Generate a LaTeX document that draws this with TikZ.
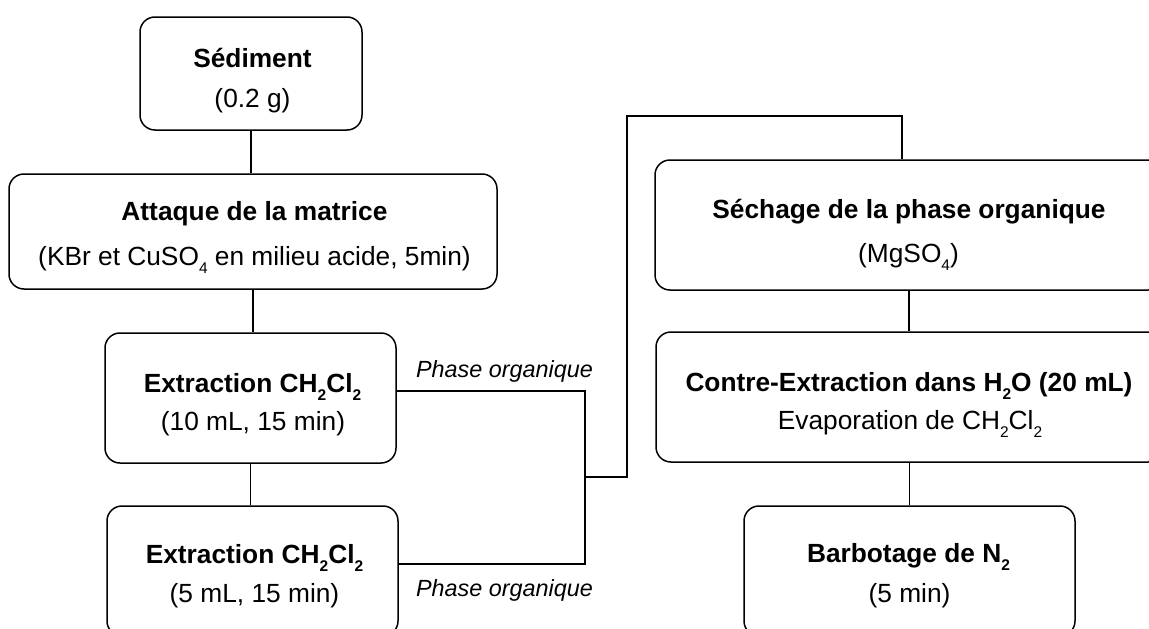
\documentclass[tikz,border=0pt]{standalone}
\usepackage{fontspec}
\setmainfont{Liberation Sans}
\newcommand{\lowsub}[1]{\raisebox{-0.32em}{\fontsize{15.5}{16}\selectfont #1}}
\begin{document}
\begin{tikzpicture}[x=1pt,y=-1pt,
  box/.style={draw, rounded corners=15pt, line width=1.5pt, inner sep=0pt},
  conn/.style={line width=1.1pt},
  lbl/.style={anchor=base, inner sep=0pt, font=\fontsize{26.3}{30}\selectfont},
  plbl/.style={anchor=base, inner sep=0pt, font=\fontsize{23.4}{28}\selectfont\itshape}]
\useasboundingbox (0,0) rectangle (1149,629);
\fill[white] (0,0) rectangle (1149,629);
\clip (0,0) rectangle (1149,629);

% boxes
\node[box, minimum width=222pt, minimum height=113pt] (sed) at (251,73.5) {};
\node[box, minimum width=488pt, minimum height=115pt] (att) at (253,231.5) {};
\node[box, minimum width=291pt, minimum height=130pt] (ex1) at (250.5,398) {};
\node[box, minimum width=291pt, minimum height=130pt] (ex2) at (252.5,571) {};
\node[box, minimum width=508pt, minimum height=130pt] (sec) at (909,225) {};
\node[box, minimum width=507pt, minimum height=130pt] (con) at (909.5,397) {};
\node[box, minimum width=331pt, minimum height=130pt] (bar) at (909.5,571) {};

% texts
\node[lbl] (sedA) at (252.5,67) {\bfseries Sédiment};
\node[lbl] (sedB) at (252.5,107) {(0.2 g)};
\node[lbl] (attA) at (254.5,220) {\bfseries Attaque de la matrice};
\node[lbl] (attB) at (254.5,265) {(KBr et CuSO\lowsub{4} en milieu acide, 5min)};
\node[lbl] (ex1A) at (252.5,392) {\bfseries Extraction CH\lowsub{2}Cl\lowsub{2}};
\node[lbl] (ex1B) at (253,430) {(10 mL, 15 min)};
\node[lbl] (ex2A) at (254.5,563) {\bfseries Extraction CH\lowsub{2}Cl\lowsub{2}};
\node[lbl] (ex2B) at (254.5,602) {(5 mL, 15 min)};
\node[lbl] (secA) at (909,218) {\bfseries Séchage de la phase organique};
\node[lbl] (secB) at (908.5,262) {(MgSO\lowsub{4})};
\node[lbl] (conA) at (909,391) {\bfseries Contre-Extraction dans H\lowsub{2}O (20 mL)};
\node[lbl] (conB) at (910,429) {Evaporation de CH\lowsub{2}Cl\lowsub{2}};
\node[lbl] (barA) at (908.5,562) {\bfseries Barbotage de N\lowsub{2}};
\node[lbl] (barB) at (909.5,602) {(5 min)};
\node[plbl] (ph1) at (504.5,377) {Phase organique};
\node[plbl] (ph2) at (504.5,596) {Phase organique};

% junctions
\coordinate (j1) at (585,391);
\coordinate (j2) at (585,564);
\coordinate (j3) at (585,477);
\coordinate (j5) at (627,477);
\coordinate (j6) at (627,116);
\coordinate (j4) at (902,116);

% connectors
\draw[conn] (sed.south) -- (sed.south |- att.north);
\draw[conn] (att.south) -- (att.south |- ex1.north);
\draw[conn] (ex1.south) -- (ex1.south |- ex2.north);
\draw[conn] (ex1.east |- j1) -- (j1) -- (j2) -- (ex2.east |- j2);
\draw[conn] (j3) -- (j5) -- (j6) -- (j4) -- (j4 |- sec.north);
\draw[conn] (sec.south) -- (sec.south |- con.north);
\draw[conn] (con.south) -- (con.south |- bar.north);
\end{tikzpicture}
\end{document}
